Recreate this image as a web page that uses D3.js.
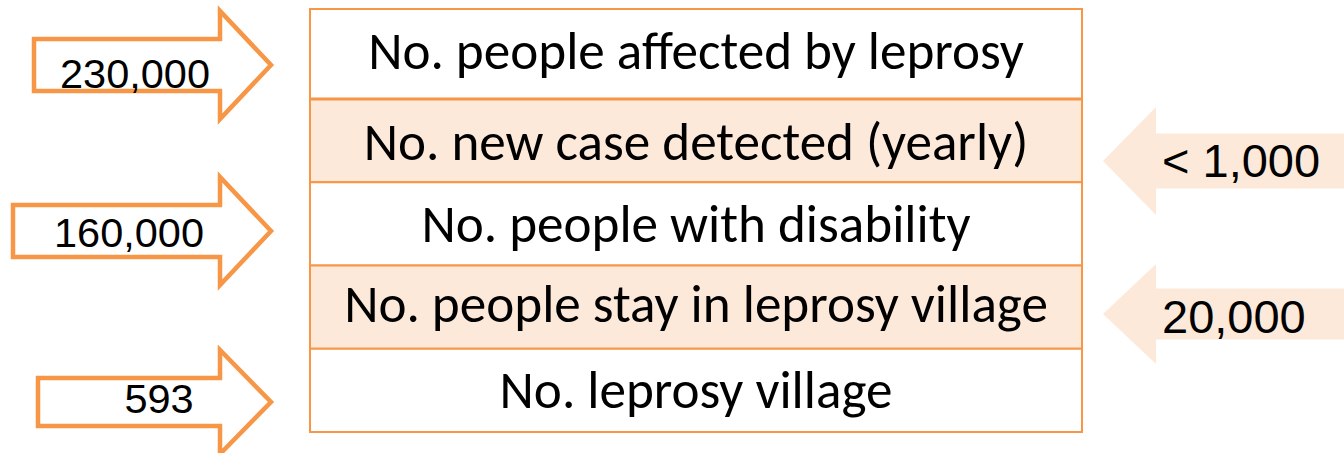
<!DOCTYPE html>
<html>
<head>
<meta charset="utf-8">
<script src="https://cdn.jsdelivr.net/npm/d3@7"></script>
<style>
  body { margin: 0; background: #fff; }
</style>
</head>
<body>
<script>
// table rows, top to bottom
const rowLabels = [
  "No. people affected by leprosy",
  "No. new case detected (yearly)",
  "No. people with disability",
  "No. people stay in leprosy village",
  "No. leprosy village"
];
const rowShaded = [false, true, false, true, false];

// values pointed at the table from the left and from the right
const leftRows = [0, 2, 4];
const leftValues = ["230,000", "160,000", "593"];
const rightRows = [1, 3];
const rightValues = ["< 1,000", "20,000"];

const width = 1344, height = 453;
const orange = "#f79646", peach = "#fde9d9";

const svg = d3.select("body").append("svg")
  .attr("width", width).attr("height", height);

const x = d3.scaleLinear().domain([0, 1]).range([310, 1082]);
const y = d3.scaleLinear().domain([0, 1, 5]).range([9, 99, 432]);

// rows
const rows = svg.selectAll("g.row").data(rowLabels).enter().append("g").attr("class", "row");
rows.append("rect")
  .attr("x", x(0)).attr("width", x(1) - x(0))
  .attr("y", (d, i) => y(i)).attr("height", (d, i) => y(i + 1) - y(i))
  .attr("fill", (d, i) => rowShaded[i] ? peach : "#fff")
  .attr("stroke", orange).attr("stroke-width", 2);
svg.append("line")
  .attr("x1", x(0)).attr("x2", x(1)).attr("y1", y(1)).attr("y2", y(1))
  .attr("stroke", orange).attr("stroke-width", 3);

const rowDy = [15, 19, 18, 15, 18];
const labels = rows.append("text")
  .attr("x", (x(0) + x(1)) / 2)
  .attr("y", (d, i) => (y(i) + y(i + 1)) / 2 + rowDy[i])
  .attr("text-anchor", "middle")
  .attr("font-family", "Carlito, Calibri, 'Open Sans', sans-serif")
  .attr("font-size", 40)
  .attr("fill", "#000")
  .text(d => d);
// fit the font to the width the first label takes in the picture
const w0 = labels.node().getComputedTextLength();
labels.attr("font-size", 40 * 656 / w0);

// left arrows: outlined, pointing right
const leftShape = [
  { x0: 34, tx: 135, dy: 23, sh: 26, hh: 54 },
  { x0: 13, tx: 129, dy: 16, sh: 26, hh: 54 },
  { x0: 38, tx: 159, dy: 11, sh: 24, hh: 52 }
];
const leftCy = [65, 231, 402];
leftValues.forEach((v, k) => {
  const s = leftShape[k], cy = leftCy[k];
  const hx = 220, tip = 271;
  const pts = [[s.x0, cy - s.sh], [hx, cy - s.sh], [hx, cy - s.hh], [tip, cy],
               [hx, cy + s.hh], [hx, cy + s.sh], [s.x0, cy + s.sh]];
  svg.append("path")
    .attr("d", d3.line()(pts) + "Z")
    .attr("fill", "#fff").attr("stroke", orange).attr("stroke-width", 4.5)
    .attr("stroke-linejoin", "miter");
  svg.append("text")
    .attr("x", s.tx).attr("y", cy + s.dy)
    .attr("text-anchor", "middle")
    .attr("font-family", "'Liberation Sans', Arial, sans-serif")
    .attr("font-size", 41.5).attr("fill", "#000")
    .text(v);
});

// right arrows: filled, pointing left
const rightCy = [161, 314];
const rightShape = [{ sh: 27.5, hh: 54, dy: 16 }, { sh: 25.5, hh: 50, dy: 19 }];
rightValues.forEach((v, k) => {
  const s = rightShape[k], cy = rightCy[k];
  const tip = 1103, hx = 1156, x1 = width + 5;
  const pts = [[tip, cy], [hx, cy - s.hh], [hx, cy - s.sh], [x1, cy - s.sh],
               [x1, cy + s.sh], [hx, cy + s.sh], [hx, cy + s.hh]];
  svg.append("path").attr("d", d3.line()(pts) + "Z").attr("fill", peach);
  svg.append("text")
    .attr("x", 1162).attr("y", cy + s.dy)
    .attr("font-family", "'Liberation Sans', Arial, sans-serif")
    .attr("font-size", 47).attr("fill", "#000")
    .text(v);
});
</script>
</body>
</html>
